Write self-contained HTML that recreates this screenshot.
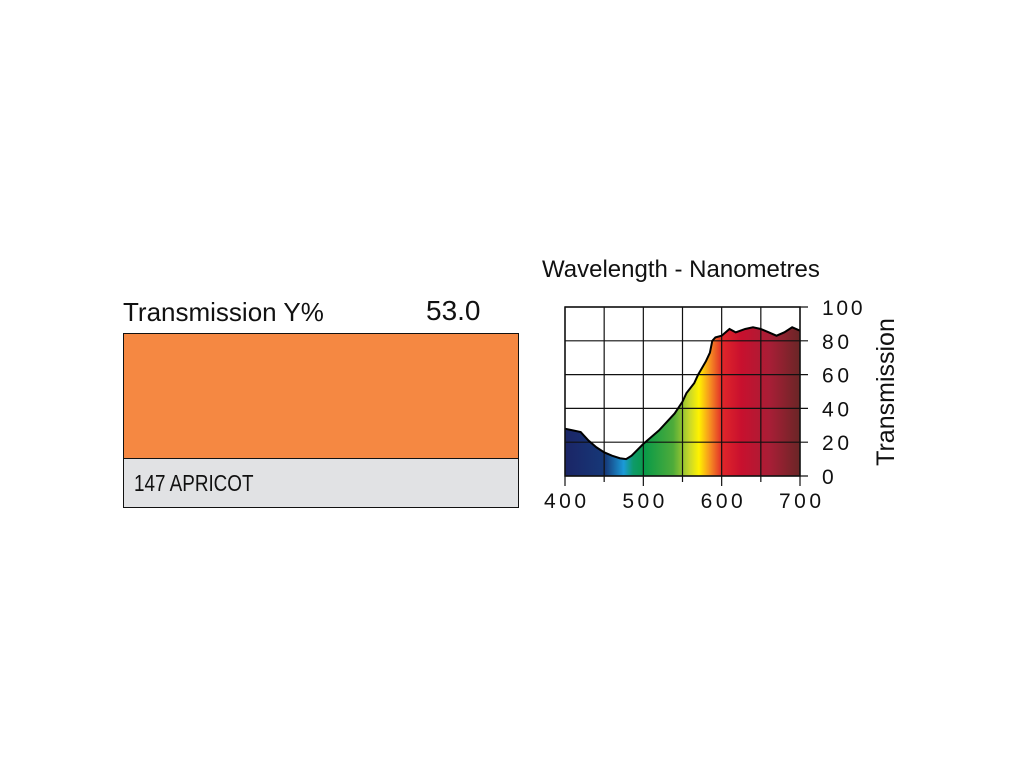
<!DOCTYPE html>
<html><head><meta charset="utf-8"><style>
body{margin:0;background:#fff;width:1024px;height:768px;overflow:hidden;font-family:"Liberation Sans",sans-serif}
.t{position:absolute;white-space:nowrap;color:#111}
</style></head><body>
<div class="t" style="left:123px;top:297px;font-size:26px">Transmission Y%</div>
<div class="t" style="left:426px;top:295px;font-size:28px">53.0</div>
<div style="position:absolute;left:123px;top:333px;width:394px;height:124px;background:#F58842;border:1px solid #111;border-bottom:none"></div>
<div style="position:absolute;left:123px;top:458px;width:394px;height:48px;background:#e1e2e4;border:1px solid #111"></div>
<div class="t" style="left:134px;top:470px;font-size:23px;transform:scaleX(0.82);transform-origin:left">147 APRICOT</div>
<div class="t" style="left:542px;top:256px;font-size:24px">Wavelength - Nanometres</div>
<svg width="1024" height="768" style="position:absolute;left:0;top:0">
<defs><linearGradient id="spec" x1="565" x2="800" y1="0" y2="0" gradientUnits="userSpaceOnUse">
<stop offset="0" stop-color="#1b2566"/><stop offset="0.17" stop-color="#163878"/><stop offset="0.25" stop-color="#1b9ad8"/><stop offset="0.29" stop-color="#0e9a6a"/><stop offset="0.34" stop-color="#0a9a48"/><stop offset="0.46" stop-color="#4eab3a"/><stop offset="0.53" stop-color="#c8d82a"/><stop offset="0.57" stop-color="#fff200"/><stop offset="0.62" stop-color="#f58a22"/><stop offset="0.67" stop-color="#e0262a"/><stop offset="0.75" stop-color="#c8102e"/><stop offset="0.87" stop-color="#a81e36"/><stop offset="1" stop-color="#6a2626"/></linearGradient></defs>
<g id="g"></g></svg>
<script>
const wl=[400,410,420,430,440,450,460,470,478,485,500,510,520,530,540,550,555,560,565,570,575,580,585,588,592,600,610,618,630,640,650,660,670,680,690,700];
const tr=[28,27,26,21,17,14,12,10.5,10,12,19,23,27,32,37,44,49,52,55,60,64,68,73,80,82,83,87,85,87,88,87,85,83,85,88,86];
const xTicks=[400,500,600,700];
const yTicks=[0,20,40,60,80,100];
const X0=565,X1=800,Y0=476,Y1=307;
const sx=v=>X0+(v-400)/300*(X1-X0), sy=v=>Y0-v/100*(Y0-Y1);
const g=document.getElementById('g');const NS='http://www.w3.org/2000/svg';
function mk(t,a){const e=document.createElementNS(NS,t);for(const k in a)e.setAttribute(k,a[k]);g.appendChild(e);return e;}
let d='M'+sx(400)+','+sy(0);wl.forEach((w,i)=>d+=' L'+sx(w)+','+sy(tr[i]));d+=' L'+sx(700)+','+sy(0)+'Z';
const area=mk('path',{d:d,fill:'url(#spec)'});

for(let w=400;w<=700;w+=50){const l=mk('line',{x1:sx(w),x2:sx(w),y1:Y1,y2:Y0+(w%100==0?10:6),stroke:'#111','stroke-width':1.2});
}
yTicks.forEach(v=>{const l=mk('line',{x1:X0,x2:X1+8,y1:sy(v),y2:sy(v),stroke:'#111','stroke-width':1.2});

const t=mk('text',{x:822,y:sy(v)+8,'font-size':21,fill:'#111','font-family':'Liberation Sans',transform:'',textLength:String(v).length*13.5});t.textContent=v;
});
let ld='';wl.forEach((w,i)=>ld+=(i?' L':'M')+sx(w)+','+sy(tr[i]));
const ln=mk('path',{d:ld,fill:'none',stroke:'#000','stroke-width':2});

mk('rect',{x:X0,y:Y1,width:X1-X0,height:Y0-Y1,fill:'none',stroke:'#111','stroke-width':1.5});
xTicks.forEach(v=>{const t=mk('text',{x:sx(v),y:508,'font-size':21,fill:'#111','text-anchor':'middle','font-family':'Liberation Sans',textLength:42});t.textContent=v;
});
const yt=mk('text',{x:0,y:0,'font-size':25,fill:'#111','text-anchor':'middle','font-family':'Liberation Sans',transform:'translate(894,392) rotate(-90)'});yt.textContent='Transmission';

</script>
</body></html>
